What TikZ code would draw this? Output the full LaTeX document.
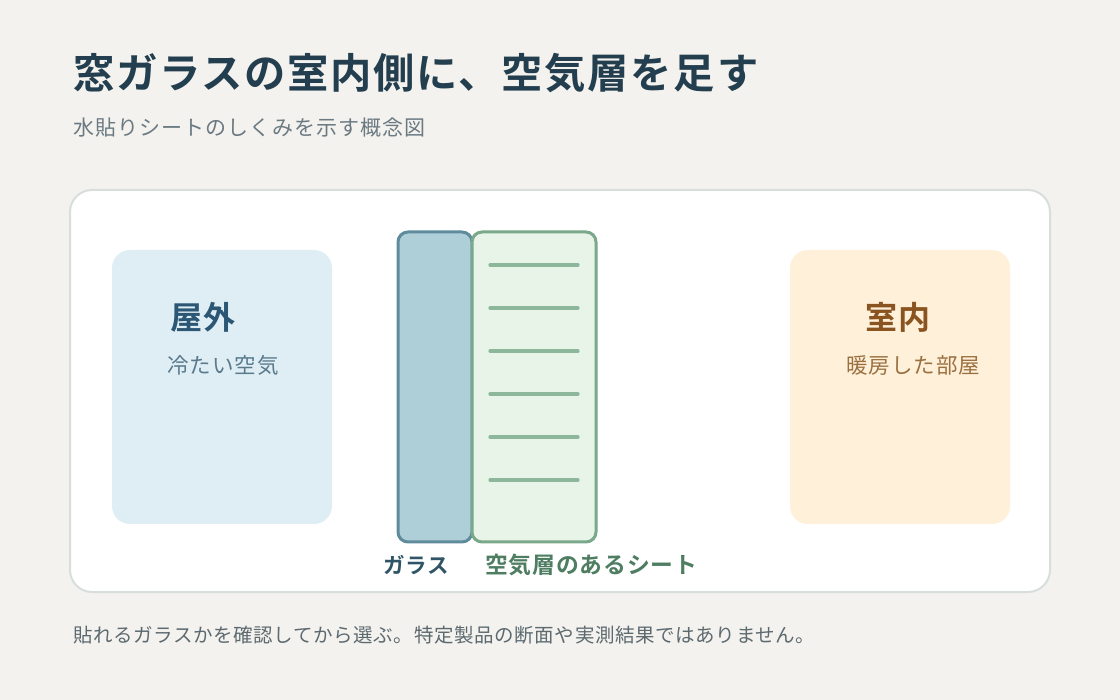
\documentclass[tikz,border=0pt]{standalone}
\usepackage{fontspec}
\setmainfont{Noto Sans CJK JP}[BoldFont={Noto Sans CJK JP Bold}]
\definecolor{bgc}{HTML}{F4F2EE}
\definecolor{cardline}{HTML}{D8DEDC}
\definecolor{titlec}{HTML}{233E4E}
\definecolor{subc}{HTML}{6B7A82}
\definecolor{footc}{HTML}{5C6A70}
\definecolor{outfill}{HTML}{DFEEF5}
\definecolor{outtitle}{HTML}{2B5775}
\definecolor{outsub}{HTML}{5A7A8C}
\definecolor{infill}{HTML}{FFF0DA}
\definecolor{intitle}{HTML}{8A5420}
\definecolor{insub}{HTML}{9A7040}
\definecolor{glassfill}{HTML}{AECFD8}
\definecolor{glassline}{HTML}{5E8C9C}
\definecolor{sheetfill}{HTML}{E8F4E8}
\definecolor{sheetline}{HTML}{79A88A}
\definecolor{airline}{HTML}{8DB79A}
\definecolor{glasslabel}{HTML}{2F5566}
\definecolor{sheetlabel}{HTML}{4E7D62}
\tikzset{
  txt/.style={inner sep=0pt, outer sep=0pt, anchor=base west},
  airrule/.style={draw=airline, line width=3.2pt, line cap=round},
}
\begin{document}
\begin{tikzpicture}[x=1pt,y=-1pt]
\fill[bgc] (0,0) rectangle (1120,700);
\useasboundingbox (0,0) rectangle (1120,700);
% title
\node[txt, text=titlec] (title) at (73,89) {\fontsize{41.3}{46}\selectfont\bfseries\addfontfeature{LetterSpace=4.3}窓ガラスの室内側に、空気層を足す};
\node[txt, text=subc] (subtitle) at (73,136) {\fontsize{21}{25}\selectfont\addfontfeature{LetterSpace=5}水貼りシートのしくみを示す概念図};
% card
\draw[fill=white, draw=cardline, line width=2pt, rounded corners=22pt] (70,190) rectangle (1050,592);
% outdoor
\fill[outfill, rounded corners=18pt] (112,250) rectangle (332,524);
\node[txt, text=outtitle] (outT) at (170,330) {\fontsize{32}{36}\selectfont\bfseries\addfontfeature{LetterSpace=5}屋外};
\node[txt, text=outsub] (outS) at (167,374) {\fontsize{21.5}{25}\selectfont\addfontfeature{LetterSpace=5}冷たい空気};
% indoor
\fill[infill, rounded corners=18pt] (790,250) rectangle (1010,524);
\node[txt, text=intitle] (inT) at (865,330) {\fontsize{32}{36}\selectfont\bfseries\addfontfeature{LetterSpace=5}室内};
\node[txt, text=insub] (inS) at (846,374) {\fontsize{21.5}{25}\selectfont\addfontfeature{LetterSpace=5}暖房した部屋};
% glass and sheet
\draw[fill=glassfill, draw=glassline, line width=3pt, rounded corners=10pt] (398,232) rectangle (472,542);
\draw[fill=sheetfill, draw=sheetline, line width=3pt, rounded corners=10pt] (472,232) rectangle (596,542);
\foreach \yy in {265,308,351,394,437,480} {
  \draw[airrule] (490,\yy) -- (578,\yy);
}
\node[txt, text=glasslabel] (glassL) at (383,573) {\fontsize{21.5}{25}\selectfont\bfseries\addfontfeature{LetterSpace=4}ガラス};
\node[txt, text=sheetlabel] (sheetL) at (485,573) {\fontsize{22.8}{26}\selectfont\bfseries\addfontfeature{LetterSpace=4}空気層のあるシート};
% footer
\node[txt, text=footc] (foot) at (73,642) {\fontsize{19.5}{23}\selectfont\addfontfeature{LetterSpace=3.2}貼れるガラスかを確認してから選ぶ。特定製品の断面や実測結果ではありません。};
\end{tikzpicture}
\end{document}
